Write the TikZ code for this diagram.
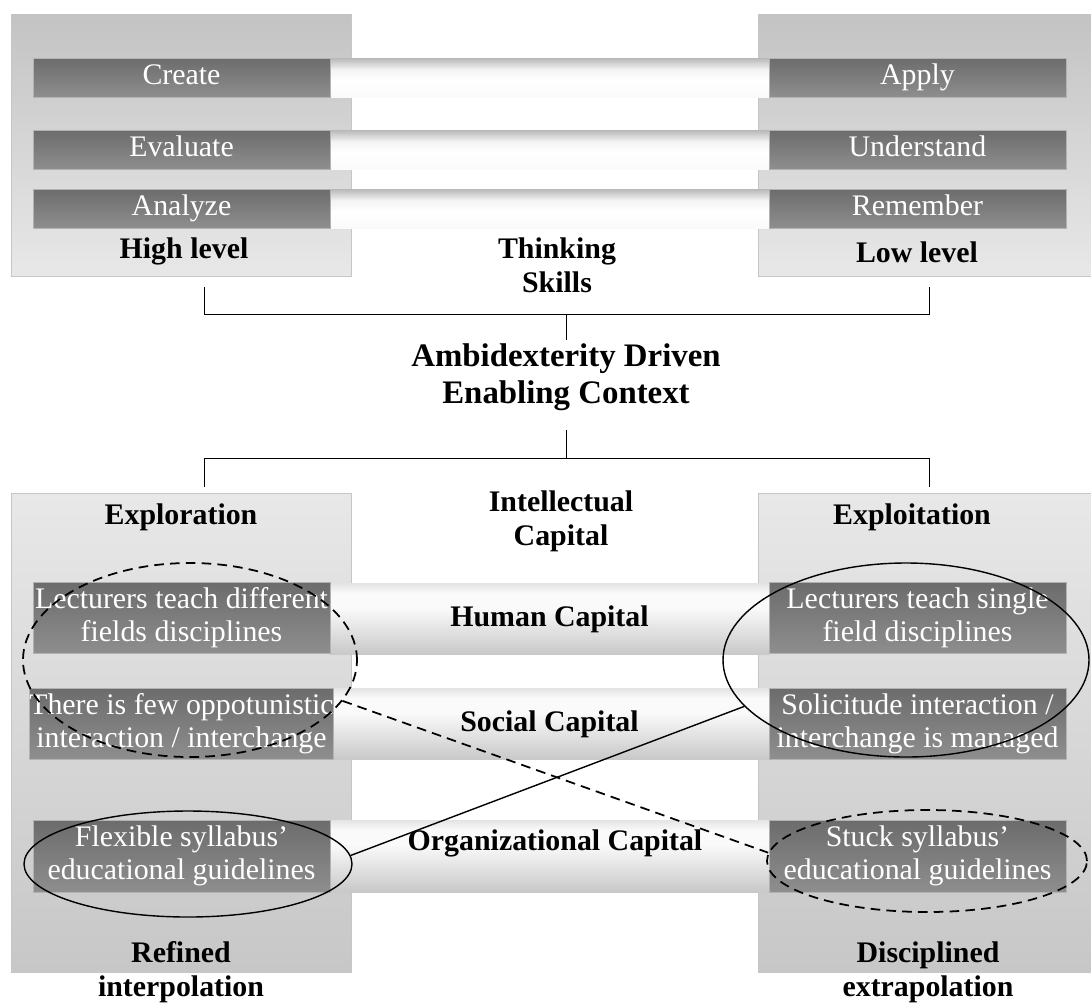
\documentclass[tikz,border=0pt]{standalone}
\usepackage{fontspec}
\setmainfont{Liberation Serif}
\usetikzlibrary{shapes.geometric}
\newcommand{\pxu}{0.02cm}
\definecolor{panelDark}{HTML}{C3C3C3}
\definecolor{panelLight}{HTML}{E8E8E8}
\definecolor{panelLow}{HTML}{C7C7C7}
\definecolor{barTop}{HTML}{6C6C6C}
\definecolor{barBot}{HTML}{8E8E8E}
\definecolor{linkTop}{HTML}{B8B8B8}
\definecolor{linkPale}{HTML}{FAFAFA}
\definecolor{lowTop}{HTML}{E4E4E4}
\definecolor{lowBot}{HTML}{C8C8C8}
\pgfdeclareverticalshading{toplink}{100bp}{color(0bp)=(linkPale); color(25bp)=(linkPale); color(45bp)=(white); color(60bp)=(white!85!linkTop); color(75bp)=(linkTop); color(100bp)=(linkTop)}
\pgfdeclareverticalshading{lowlink}{100bp}{color(0bp)=(lowBot); color(25bp)=(lowBot); color(58bp)=(linkPale); color(68bp)=(linkPale); color(75bp)=(lowTop); color(100bp)=(lowTop)}
\begin{document}
\begin{tikzpicture}[
	x=0.02cm, y=-0.02cm,
	every node/.style={font=\fontsize{17}{18.7}\selectfont, inner sep=0pt},
	panelup/.style={shape=rectangle, draw=gray!45, top color=panelDark, bottom color=panelLight, minimum width=340*\pxu, minimum height=262*\pxu},
	paneldown/.style={shape=rectangle, draw=gray!45, top color=panelLight, bottom color=panelLow, minimum width=340*\pxu, minimum height=479*\pxu},
	linkbar/.style={shape=rectangle, shading=toplink, minimum width=439*\pxu, minimum height=39*\pxu},
	lowbar/.style={shape=rectangle, shading=lowlink, minimum width=439*\pxu, minimum height=71*\pxu},
	skillbar/.style={shape=rectangle, draw=gray!60, top color=barTop, bottom color=barBot, text=white, align=center, minimum width=297*\pxu},
	oneline/.style={skillbar, minimum height=39*\pxu, text height=11.5pt, text depth=3.5pt},
	twoline/.style={skillbar, minimum height=71*\pxu},
	tag/.style={font=\fontsize{17}{19.3}\selectfont\bfseries, align=center},
	ring/.style={shape=ellipse, draw, line width=0.8pt},
	dashring/.style={ring, dash pattern=on 5.5pt off 3.5pt, line width=1pt},
]
\useasboundingbox (0,0) rectangle (1091,1005);

\node[panelup] (highPanel) at (181,145) {};
\node[panelup] (lowPanel) at (928,145) {};
\node[paneldown] (explorePanel) at (181,732.5) {};
\node[paneldown] (exploitPanel) at (928,732.5) {};

\node[linkbar] (link1) at (549.5,77.5) {};
\node[linkbar] (link2) at (549.5,149.5) {};
\node[linkbar] (link3) at (549.5,208.5) {};
\node[lowbar] (human) at (549.5,619) {};
\node[lowbar] (social) at (549.5,724) {};
\node[lowbar, minimum height=72*\pxu] (organ) at (549.5,856) {};

\node[oneline] (create) at (181.5,77.5) {Create};
\node[oneline] (evaluate) at (181.5,149.5) {Evaluate};
\node[oneline] (analyze) at (181.5,208.5) {Analyze};
\node[oneline] (apply) at (917.5,77.5) {Apply};
\node[oneline] (understand) at (917.5,149.5) {Understand};
\node[oneline] (remember) at (917.5,208.5) {Remember};

\node[twoline] (diffFields) at (181.5,618) {Lecturers teach different\\fields disciplines};
\node[twoline] (fewInter) at (181.5,723.5) {There is few oppotunistic\\interaction / interchange};
\node[twoline, minimum height=72*\pxu] (flexSyl) at (181.5,856) {Flexible syllabus'\\educational guidelines};
\node[twoline] (singleField) at (917.5,618) {Lecturers teach single\\field disciplines};
\node[twoline] (manInter) at (917.5,723.5) {Solicitude interaction /\\interchange is managed};
\node[twoline, minimum height=72*\pxu] (stuckSyl) at (917.5,856) {Stuck syllabus'\\educational guidelines};

\node[tag] (highLbl) at (184,251) {High level};
\node[tag] (thinkLbl) at (557,265) {Thinking\\Skills};
\node[tag] (lowLbl) at (917,252) {Low level};
\node[tag, font=\fontsize{18.7}{21}\selectfont\bfseries] (amb) at (566,377) {Ambidexterity Driven\\Enabling Context};
\node[tag] (exploreLbl) at (181,517) {Exploration};
\node[tag] (intelLbl) at (561,521) {Intellectual\\Capital};
\node[tag] (exploitLbl) at (912,517) {Exploitation};
\node[tag] at (human) {Human Capital};
\node[tag] at (social) {Social Capital};
\node[tag] (organLbl) at (555,843) {Organizational Capital};
\node[tag] (refinedLbl) at (181,972) {Refined\\interpolation};
\node[tag] (disciplLbl) at (928,972) {Disciplined\\extrapolation};

\coordinate (upL) at (204,287);
\coordinate (upR) at (929,287);
\coordinate (upMid) at (566,314);
\coordinate (ambN) at (566,340);
\coordinate (ambS) at (566,430);
\coordinate (loMid) at (566,458);
\coordinate (loL) at (204,487);
\coordinate (loR) at (929,487);
\draw (upL) |- (upMid) -| (upR);
\draw (upMid) -- (ambN);
\draw (ambS) -- (loMid);
\draw (loL) |- (loMid) -| (loR);

\node[dashring, minimum width=334*\pxu, minimum height=194*\pxu] (exploreRing) at (190,660) {};
\node[ring, minimum width=366*\pxu, minimum height=194*\pxu] (exploitRing) at (906,660) {};
\node[ring, minimum width=328*\pxu, minimum height=106*\pxu] (flexRing) at (188,864) {};
\node[dashring, minimum width=320*\pxu, minimum height=102*\pxu] (stuckRing) at (927,861) {};

\draw[dash pattern=on 5.5pt off 3.5pt, line width=1pt] (exploreRing.-15) -- (stuckRing.177);
\draw[line width=0.8pt] (flexRing.3) -- (exploitRing.-164);
\end{tikzpicture}
\end{document}
